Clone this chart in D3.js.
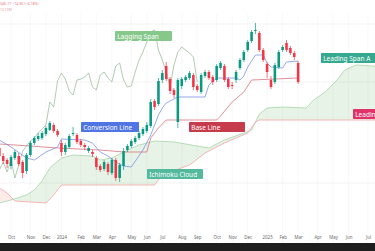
<!DOCTYPE html>
<html>
<head>
<meta charset="utf-8">
<script src="https://cdn.jsdelivr.net/npm/d3@7"></script>
<style>
  html, body { margin: 0; padding: 0; background: #fff; overflow: hidden; }
  svg { display: block; font-family: "Noto Sans", "DejaVu Sans", sans-serif; }
</style>
</head>
<body>
<div id="chart"></div>
<script>
// weekly candles, first bar on this Monday
const firstWeek = "2023-09-11";

const opens = [282,274,270,264,272,274,268,259,275,287, 291,292,296,300,305,299,287,278,283,296,
  295,289,285,279,278,272,264,261,266,257, 270,252,264,280,284,288,292,296,299,304,
  329,326,350,364,351,340,308,344,350,352, 355,344,338,354,358,353,350,362,364,351,
  345,350,362,370,380,389,399,397,380,366, 350,348,363,380,387,382,377,367];
const highs = [285,277,272,275,280,277,270,277,289,294, 297,299,304,309,307,301,290,287,296,303,
  297,291,287,284,280,274,266,270,268,272, 272,267,282,286,291,294,299,303,308,331,
  331,352,360,368,353,342,352,353,355,359, 357,346,357,360,360,355,366,369,366,353,
  348,360,372,380,390,400,407,399,382,368, 354,367,380,385,390,384,379,369];
const lows = [272,266,262,261,270,264,252,256,273,285, 289,290,294,299,297,293,274,275,281,294,
  286,283,280,277,273,260,258,259,255,255, 249,248,260,278,282,286,290,294,297,302,
  320,324,347,349,336,332,302,341,348,350, 340,338,336,352,350,345,348,360,348,341,
  341,347,360,368,378,387,396,378,368,352, 341,346,361,378,378,375,370,346];
const closes = [274,269,266,273,278,266,257,275,287,292, 294,297,302,307,299,295,278,285,294,297,
  288,285,283,282,276,263,260,268,258,270, 252,265,279,284,289,292,297,301,305,328,
  323,349,357,351,339,335,350,351,353,357, 343,340,355,358,352,348,364,367,350,343,
  344,358,370,378,388,398,400,380,370,358, 343,365,378,383,380,377,373,348];

// Ichimoku lines: [week index, price]
const conversionLine = [[0,290],[3,283],[7,272],[9,270],[12,278],[15,283],[16,291],[22,290],[24,287],
  [26,278],[28,274],[30,268],[32,264],[34,263],[37,280],[39,295],[41,315],[42,322],[43,327],[44,329],
  [46,333],[53,333],[54,345],[56,352],[61,352],[62,350],[63,354],[64,363],[66,375],[68,375],[69,367],
  [70,363],[73,362],[74,368],[77,369]];
const baseLine = [[0,286],[8,284],[15,282],[26,280],[32,278],[38,278],[39,292],[41,302],[43,310],
  [56,310],[57,314],[60,328],[63,338],[65,350],[77,352]];
const leadingSpanA = [[0,227],[3,230],[7,235],[9,240],[11,249],[13,262],[16,272],[19,275],[24,274],
  [26,270],[29,272],[32,278],[36,285],[40,289],[45,288],[51,284],[54,282],[58,290],[63,297],[65,300],
  [67,316],[69,322],[73,323],[79,322],[81,330],[84,338],[87,350],[89,360],[92,365],[96,364],[103,362]];
const leadingSpanB = [[0,242],[2,237],[4,229],[12,227],[14,235],[16,245],[40,245],[42,255],[49,265],
  [53,277],[58,287],[64,297],[66,308],[67,310],[103,310]];
const laggingShift = 26;

// time axis
const tickDates = ["2023-10-02","2023-11-06","2023-12-04","2024-01-01","2024-02-05","2024-03-04",
  "2024-04-01","2024-05-06","2024-06-03","2024-07-01","2024-08-05","2024-09-02","2024-10-07",
  "2024-11-04","2024-12-02","2025-01-06","2025-02-03","2025-03-03","2025-04-07","2025-05-05",
  "2025-06-02","2025-07-07"];
const tickLabels = ["Oct","Nov","Dec","2024","Feb","Mar","Apr","May","Jun","Jul","Aug","Sep","Oct",
  "Nov","Dec","2025","Feb","Mar","Apr","May","Jun","Jul"];
const gridPrices = [406, 348, 247];

const annotations = [
  { text: "Lagging Span",    color: "#86c78a" },
  { text: "Conversion Line", color: "#4f74e3" },
  { text: "Base Line",       color: "#c73c4b" },
  { text: "Ichimoku Cloud",  color: "#52b99d" },
  { text: "Leading Span A",  color: "#35a98f" },
  { text: "Leading Span B",  color: "#e0336a" }
];

const width = 375, height = 251, plotBottom = 243;
const parse = d3.utcParse("%Y-%m-%d");
const start = parse(firstWeek);
const weekDate = i => d3.utcDay.offset(start, 7 * i);
const ticks = tickDates.map(parse);

const x = d3.scaleUtc().domain(d3.extent(ticks)).range([11, 368]);
const y = d3.scaleLinear().domain([180, 430]).range([250, 0]);

const svg = d3.select("#chart").append("svg")
  .attr("width", width)
  .attr("height", height);

// grid
svg.append("g").selectAll("line")
  .data(ticks)
  .join("line")
  .attr("x1", d => x(d)).attr("x2", d => x(d))
  .attr("y1", 14).attr("y2", plotBottom)
  .attr("stroke", "#f3f3f3").attr("stroke-width", 0.6);

svg.append("g").selectAll("line")
  .data(gridPrices)
  .join("line")
  .attr("x1", 0).attr("x2", width)
  .attr("y1", d => y(d)).attr("y2", d => y(d))
  .attr("stroke", "#ebebeb").attr("stroke-width", 0.6);

// cloud
const px = d => x(weekDate(d[0]));
const areaAbove = d3.area().x(px).y0(0).y1(d => y(d[1]));
const areaBelow = d3.area().x(px).y0(plotBottom).y1(d => y(d[1]));

const defs = svg.append("defs");
defs.append("clipPath").attr("id", "clip-above-a").append("path").attr("d", areaAbove(leadingSpanA));
defs.append("clipPath").attr("id", "clip-below-a").append("path").attr("d", areaBelow(leadingSpanA));

svg.append("path")
  .attr("d", areaAbove(leadingSpanB))
  .attr("clip-path", "url(#clip-below-a)")
  .attr("fill", "#43a047").attr("fill-opacity", 0.13);

svg.append("path")
  .attr("d", areaBelow(leadingSpanB))
  .attr("clip-path", "url(#clip-above-a)")
  .attr("fill", "#f44336").attr("fill-opacity", 0.1);

const line = d3.line().x(px).y(d => y(d[1]));

svg.append("path").attr("d", line(leadingSpanA))
  .attr("fill", "none").attr("stroke", "#a5d6a7").attr("stroke-width", 0.8);
svg.append("path").attr("d", line(leadingSpanB))
  .attr("fill", "none").attr("stroke", "#f6a3a6").attr("stroke-width", 0.8);

// lagging span = closes shifted back
const lagging = closes.slice(laggingShift).map((c, i) => [i, c]);
svg.append("path").attr("d", line(lagging))
  .attr("fill", "none").attr("stroke", "#9dbf9f").attr("stroke-width", 0.8);

svg.append("path").attr("d", line(baseLine))
  .attr("fill", "none").attr("stroke", "#d9737c").attr("stroke-width", 0.8);
svg.append("path").attr("d", line(conversionLine))
  .attr("fill", "none").attr("stroke", "#7c93e6").attr("stroke-width", 0.8);

// candles
const candles = closes.map((c, i) => ({ i, o: opens[i], h: highs[i], l: lows[i], c }));
const step = x(weekDate(1)) - x(weekDate(0));
const bodyW = step * 0.66;
const col = d => d.c >= d.o ? "#089981" : "#f23645";

const cg = svg.append("g");
cg.selectAll("line")
  .data(candles)
  .join("line")
  .attr("x1", d => x(weekDate(d.i))).attr("x2", d => x(weekDate(d.i)))
  .attr("y1", d => y(d.h)).attr("y2", d => y(d.l))
  .attr("stroke", col).attr("stroke-width", 0.7);

cg.selectAll("rect")
  .data(candles)
  .join("rect")
  .attr("x", d => x(weekDate(d.i)) - bodyW / 2)
  .attr("width", bodyW)
  .attr("y", d => y(Math.max(d.o, d.c)))
  .attr("height", d => Math.max(0.8, Math.abs(y(d.o) - y(d.c))))
  .attr("fill", col);

// annotation boxes
const boxes = [
  { x: 115, y: 31, w: 57 },
  { x: 81,  y: 122, w: 58 },
  { x: 189, y: 122, w: 56 },
  { x: 147, y: 169, w: 56 },
  { x: 321, y: 53, w: 56 },
  { x: 353, y: 109, w: 60 }
];
const ag = svg.append("g").selectAll("g")
  .data(annotations)
  .join("g")
  .attr("transform", (d, i) => `translate(${boxes[i].x},${boxes[i].y})`);
ag.append("rect")
  .attr("width", (d, i) => boxes[i].w)
  .attr("height", 10)
  .attr("rx", 0.8)
  .attr("fill", d => d.color);
ag.append("text")
  .attr("x", 2.2).attr("y", 5.2)
  .attr("dominant-baseline", "central")
  .attr("font-size", 6.5)
  .attr("fill", "#fff")
  .text(d => d.text);

// header
svg.append("text").attr("x", 0).attr("y", 4.5)
  .attr("font-size", 3.6).attr("fill", "#e8828a")
  .text("346.77  −14.96 (−4.18%)");
svg.append("text").attr("x", 0).attr("y", 10.5)
  .attr("font-size", 3.4).attr("fill", "#e8a0a6")
  .text("13.13M");

// time axis
svg.append("g")
  .attr("transform", `translate(0,${plotBottom - 7})`)
  .call(d3.axisBottom(x).tickValues(ticks).tickFormat((d, i) => tickLabels[i]).tickSize(0).tickPadding(0))
  .call(g => g.select(".domain").remove())
  .selectAll("text")
  .attr("font-family", "'Noto Sans', sans-serif")
  .attr("font-size", 4.4)
  .attr("fill", "#6a6a6a");

// dark footer strip
svg.append("rect")
  .attr("x", 0).attr("y", plotBottom)
  .attr("width", width).attr("height", height - plotBottom)
  .attr("fill", "#1e1e1e");
</script>
</body>
</html>
